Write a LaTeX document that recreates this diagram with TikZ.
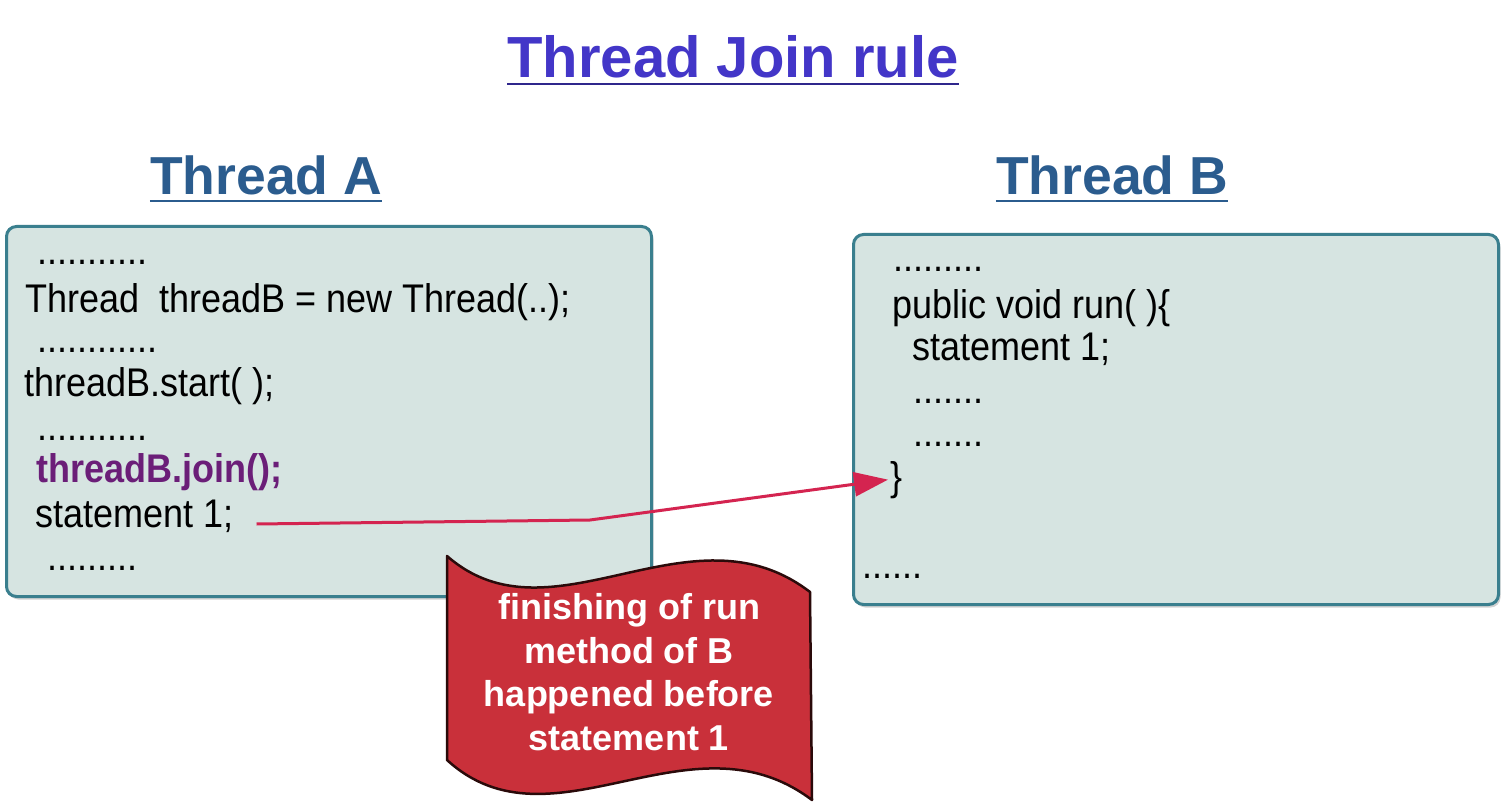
\documentclass[tikz,border=0pt]{standalone}
\usepackage{fontspec}
\setmainfont{Liberation Sans}
\newfontfamily\codefont[FakeStretch=0.9]{Liberation Sans}
\usetikzlibrary{shadows,arrows.meta}
\definecolor{titleblue}{HTML}{4336C8}
\definecolor{headblue}{HTML}{2B5C8E}
\definecolor{boxfill}{HTML}{D6E4E1}
\definecolor{boxline}{HTML}{3A7F8E}
\definecolor{joinpurple}{HTML}{6B1E78}
\definecolor{arrowred}{HTML}{D42450}
\definecolor{bannerred}{HTML}{C9303A}
\definecolor{bannerline}{HTML}{2A0A0A}
\tikzset{
  codebox/.style={draw=boxline, fill=boxfill, line width=3pt, rounded corners=10pt,
    anchor=north west, inner sep=0pt,
    drop shadow={shadow xshift=2pt, shadow yshift=-3pt, opacity=0.35, fill=gray}},
  code/.style={anchor=base west, inner sep=0pt, font=\codefont\fontsize{40}{44}\selectfont, text=black},
  joincode/.style={code, font=\codefont\bfseries\fontsize{40}{44}\selectfont, text=joinpurple},
  head/.style={anchor=base, inner sep=0pt, font=\bfseries\fontsize{53.5}{60}\selectfont, text=headblue},
  maintitle/.style={anchor=base, inner sep=0pt, font=\bfseries\fontsize{58}{64}\selectfont, text=titleblue},
  bannertext/.style={align=center, inner sep=0pt, text=white, font=\bfseries\fontsize{36}{43.5}\selectfont},
  arrowline/.style={draw=arrowred, line width=3pt, -{Triangle[length=34pt,width=24pt]}},
}
\begin{document}
\begin{tikzpicture}[x=1pt,y=-1pt]
\useasboundingbox (0,0) rectangle (1506,810);
\fill[white] (0,0) rectangle (1506,810);

% titles
\node[maintitle] (title) at (733,78) {Thread Join rule};
\draw[titleblue!70!black, line width=2pt] ([yshift=-6pt]title.base west) -- ([yshift=-6pt]title.base east);
\node[head] (thA) at (266,195) {Thread A};
\draw[headblue, line width=2.5pt] ([yshift=-6pt]thA.base west) -- ([yshift=-6pt]thA.base east);
\node[head] (thB) at (1112,195) {Thread B};
\draw[headblue, line width=2.5pt] ([yshift=-6pt]thB.base west) -- ([yshift=-6pt]thB.base east);

% boxes
\node[codebox, minimum width=645pt, minimum height=370pt] (boxA) at (5,225) {};
\node[codebox, minimum width=645pt, minimum height=370pt] (boxB) at (852,233) {};

% thread A code
\node[code] (a1) at (37,265) {...........};
\node[code] (a2) at (25,312) {Thread\ \ threadB = new Thread(..);};
\node[code] (a3) at (37,352) {............};
\node[code] (a4) at (24,396) {threadB.start( );};
\node[code] (a5) at (37,440) {...........};
\node[joincode] (a6) at (36,482) {threadB.join();};
\node[code] (a7) at (35,527) {statement 1;};
\node[code] (a8) at (47,570) {.........};

% thread B code
\node[code] (b1) at (893,272) {.........};
\node[code] (b2) at (892,318) {public void run( )\{};
\node[code] (b3) at (912,360) {statement 1;};
\node[code] (b4) at (913,403) {.......};
\node[code] (b5) at (913,446) {.......};
\node[code] (b6) at (890,490) {\}};
\node[code] (b7) at (862,578) {......};

% arrow
\coordinate (bend) at (590,520);
\draw[arrowline] ([xshift=23pt,yshift=3pt]a7.base east) -- (bend) -- ([xshift=-2pt]b6.west);

% banner
\filldraw[fill=bannerred, draw=bannerline, line width=2.5pt, line join=round]
  (447,556) .. controls (552,648) and (690,500) .. (810,592)
  -- (812,800) .. controls (690,708) and (552,856) .. (447,760) -- cycle;
\node[bannertext] (banner) at (629,672) {finishing of run\\method of B\\happened before\\statement 1};
\end{tikzpicture}
\end{document}
